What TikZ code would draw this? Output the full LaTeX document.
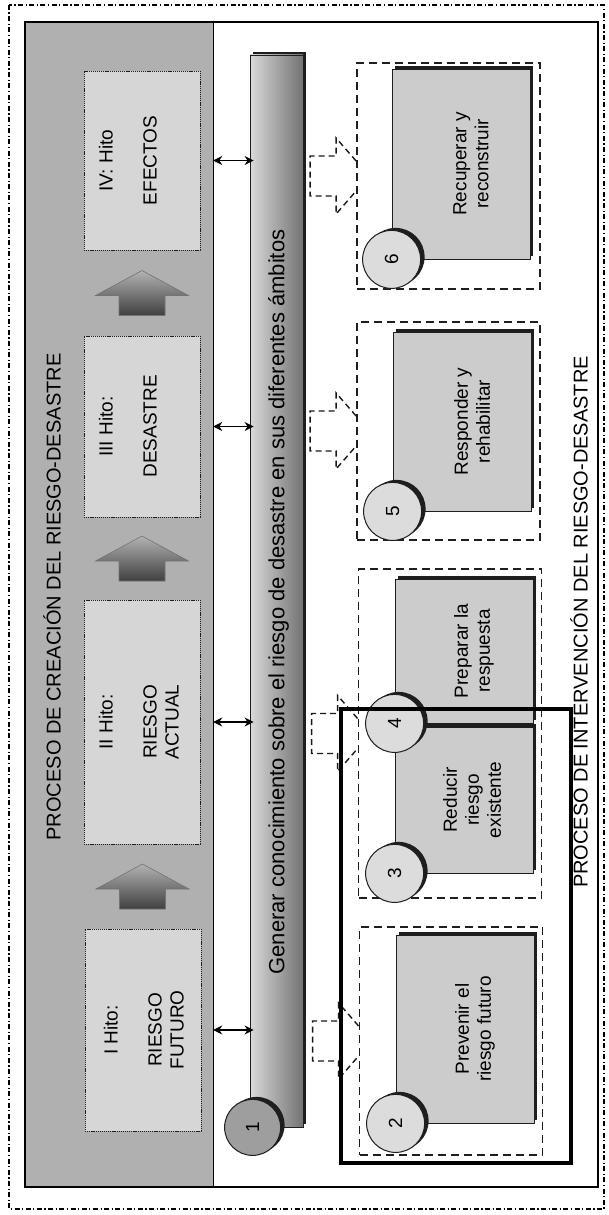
\documentclass[tikz,border=0pt]{standalone}
\usepackage{graphicx}
\usepackage{fontspec}
\setmainfont{Liberation Sans}
\usetikzlibrary{arrows.meta,positioning,calc,shadows}
\definecolor{bandGray}{RGB}{176,176,176}
\definecolor{hitoGray}{RGB}{214,214,214}
\definecolor{boxGray}{RGB}{204,204,204}
\definecolor{dotGray}{RGB}{220,220,220}
\definecolor{inkDark}{RGB}{30,30,30}

\begin{document}
\begin{tikzpicture}[x=1pt,y=-1pt,
    hitobox/.style={draw=inkDark,fill=hitoGray,line width=0.9pt,
      dash pattern=on 1.2pt off 0.9pt,minimum width=116pt,inner sep=0pt},
    hitotext/.style={rotate=90,anchor=north,align=center,inner sep=0pt,
      font=\fontsize{19}{22}\selectfont},
    risearrow/.style={top color=black!30,bottom color=black!75,draw=black!55,
      line width=0.6pt},
    knowbar/.style={draw=inkDark,line width=0.8pt,left color=black!15,
      right color=black!55,inner sep=0pt,
      drop shadow={shadow xshift=3pt,shadow yshift=3pt,fill=inkDark,opacity=1}},
    dashbox/.style={draw=inkDark,line width=1.8pt,dash pattern=on 8pt off 5pt,
      minimum width=183pt,inner sep=0pt},
    stepbox/.style={draw=inkDark,fill=boxGray,line width=0.8pt,minimum width=138pt,
      inner sep=0pt,drop shadow={shadow xshift=3pt,shadow yshift=3pt,
      fill=inkDark,opacity=1}},
    steptext/.style={rotate=90,align=center,font=\fontsize{19}{22}\selectfont},
    numdot/.style={circle,draw=inkDark,fill=dotGray,line width=1pt,minimum size=58pt,
      inner sep=0pt,font=\fontsize{19}{19}\selectfont,
      drop shadow={shadow xshift=4pt,shadow yshift=2.5pt,fill=inkDark,opacity=1}},
    linkboth/.style={{Stealth[length=9pt,width=9pt]}-{Stealth[length=9pt,width=9pt]},
      line width=1.3pt},
    linkdash/.style={draw=black!90,line width=1.4pt,dash pattern=on 6pt off 4pt},
    bigtitle/.style={rotate=90,font=\fontsize{20}{24}\selectfont}]
  % block arrow between two hito boxes
  \newcommand{\riseArrow}[2]{%
    \coordinate (m) at ($(#1.north)!0.5!(#2.south)$);
    \draw[risearrow] ($(m)+(-23,22.5)$) -- ++(0,-20) -- ++(-23.5,0) -- ++(46.5,-25)
      -- ++(46.5,25) -- ++(-23.5,0) -- ++(0,20) -- cycle;}
  % dashed push arrow in front of an intervention box
  \newcommand{\pushLink}[1]{%
    \draw[linkdash] ($(#1.west)+(0,-15)$) -- ++(-20,-23) -- ++(0,18) -- ++(-26,0)
      -- ++(0,40) -- ++(26,0) -- ++(0,18) -- ++(20,-23);}
  \useasboundingbox (0,0) rectangle (609,1215);
  \draw[line width=1.1pt,dash pattern=on 5pt off 2.5pt on 1.2pt off 2.5pt]
    (9,5) rectangle (604,1209);
  % creation band
  \node[fill=bandGray,minimum width=188pt,minimum height=1165pt,inner sep=0pt]
    (band) at (119,604.5) {};
  \draw[line width=1.2pt] (25,22) rectangle (598,1187);
  \draw[line width=1.2pt] (band.north east) -- (band.south east);
  \node[bigtitle] (ttl1) at (52,597) {PROCESO DE CREACIÓN DEL RIESGO-DESASTRE};
  \node[hitobox,minimum height=179pt] (h4) at (142,160.5) {};
  \node[hitobox,minimum height=181pt] (h3) at (142,426.5) {};
  \node[hitobox,minimum height=244pt] (h2) at (142,722) {};
  \node[hitobox,minimum height=202pt] (h1) at (143,1030) {};
  \node[hitotext] (t4) at ($(h4.west)+(15,0)$) {IV: Hito\\[22pt]EFECTOS};
  \node[hitotext] (t3) at ($(h3.west)+(15,0)$) {III Hito:\\[22pt]DESASTRE};
  \node[hitotext] (t2) at ($(h2.west)+(15,0)$) {II Hito:\\[22pt]RIESGO\\ACTUAL};
  \node[hitotext] (t1) at ($(h1.west)+(19,0)$) {I Hito:\\[22pt]RIESGO\\FUTURO};
  \riseArrow{h1}{h2}\riseArrow{h2}{h3}\riseArrow{h3}{h4}
  % knowledge bar
  \node[knowbar,minimum width=53pt,minimum height=1072pt] (bar) at (276.5,591) {};
  \node[rotate=90,font=\fontsize{22}{24}\selectfont] (t0) at ($(bar.center)+(2,11)$)
    {Generar conocimiento sobre el riesgo de desastre en sus diferentes ámbitos};
  \node[numdot,fill=black!38,minimum size=56pt] (c1) at ($(bar.south west)+(3,0)$)
    {\rotatebox{90}{1}};
  \foreach \h in {h1,h2,h3,h4}
    \draw[linkboth] (band.east |- \h) -- ($(bar.west |- \h)+(4,0)$);
  % intervention
  \node[dashbox,minimum height=226pt] (d6) at (448.5,176) {};
  \node[dashbox,minimum height=218pt] (d5) at (448.5,431) {};
  \node[dashbox,minimum height=329pt] (d4) at (450,733.5) {};
  \node[dashbox,minimum height=228pt] (d2) at (451,1041) {};
  \pushLink{d6}\pushLink{d5}\pushLink{d4}\pushLink{d2}
  \node[stepbox,minimum height=190pt] (b6) at (461,164) {};
  \node[stepbox,minimum height=179pt] (b5) at (462,421.5) {};
  \node[stepbox,minimum height=144pt] (b4) at (464,651) {};
  \node[stepbox,minimum height=146pt] (b3) at (464,800) {};
  \node[stepbox,minimum height=188pt] (b2) at (465,1029) {};
  \node[steptext] (s6) at ($(b6)+(10,0)$) {Recuperar y\\reconstruir};
  \node[steptext] (s5) at ($(b5)+(10,0)$) {Responder y\\rehabilitar};
  \node[steptext] (s4) at ($(b4)+(10,0)$) {Preparar la\\respuesta};
  \node[steptext] (s3) at ($(b3)+(8,0)$) {Reducir\\riesgo\\existente};
  \node[steptext] (s2) at ($(b2)+(10,0)$) {Prevenir el\\riesgo futuro};
  \node[numdot] (c6) at (b6.south west) {\rotatebox{90}{6}};
  \node[numdot] (c5) at (b5.south west) {\rotatebox{90}{5}};
  \node[numdot] (c4) at (b4.south west) {\rotatebox{90}{4}};
  \node[numdot] (c3) at (b3.south west) {\rotatebox{90}{3}};
  \node[numdot] (c2) at (b2.south west) {\rotatebox{90}{2}};
  \node[bigtitle] (ttl2) at (579,622) {PROCESO DE INTERVENCIÓN DEL RIESGO-DESASTRE};
  \node[draw,line width=4.5pt,minimum width=230pt,minimum height=454pt,inner sep=0pt]
    (focus) at (456,936) {};
\end{tikzpicture}
\end{document}
